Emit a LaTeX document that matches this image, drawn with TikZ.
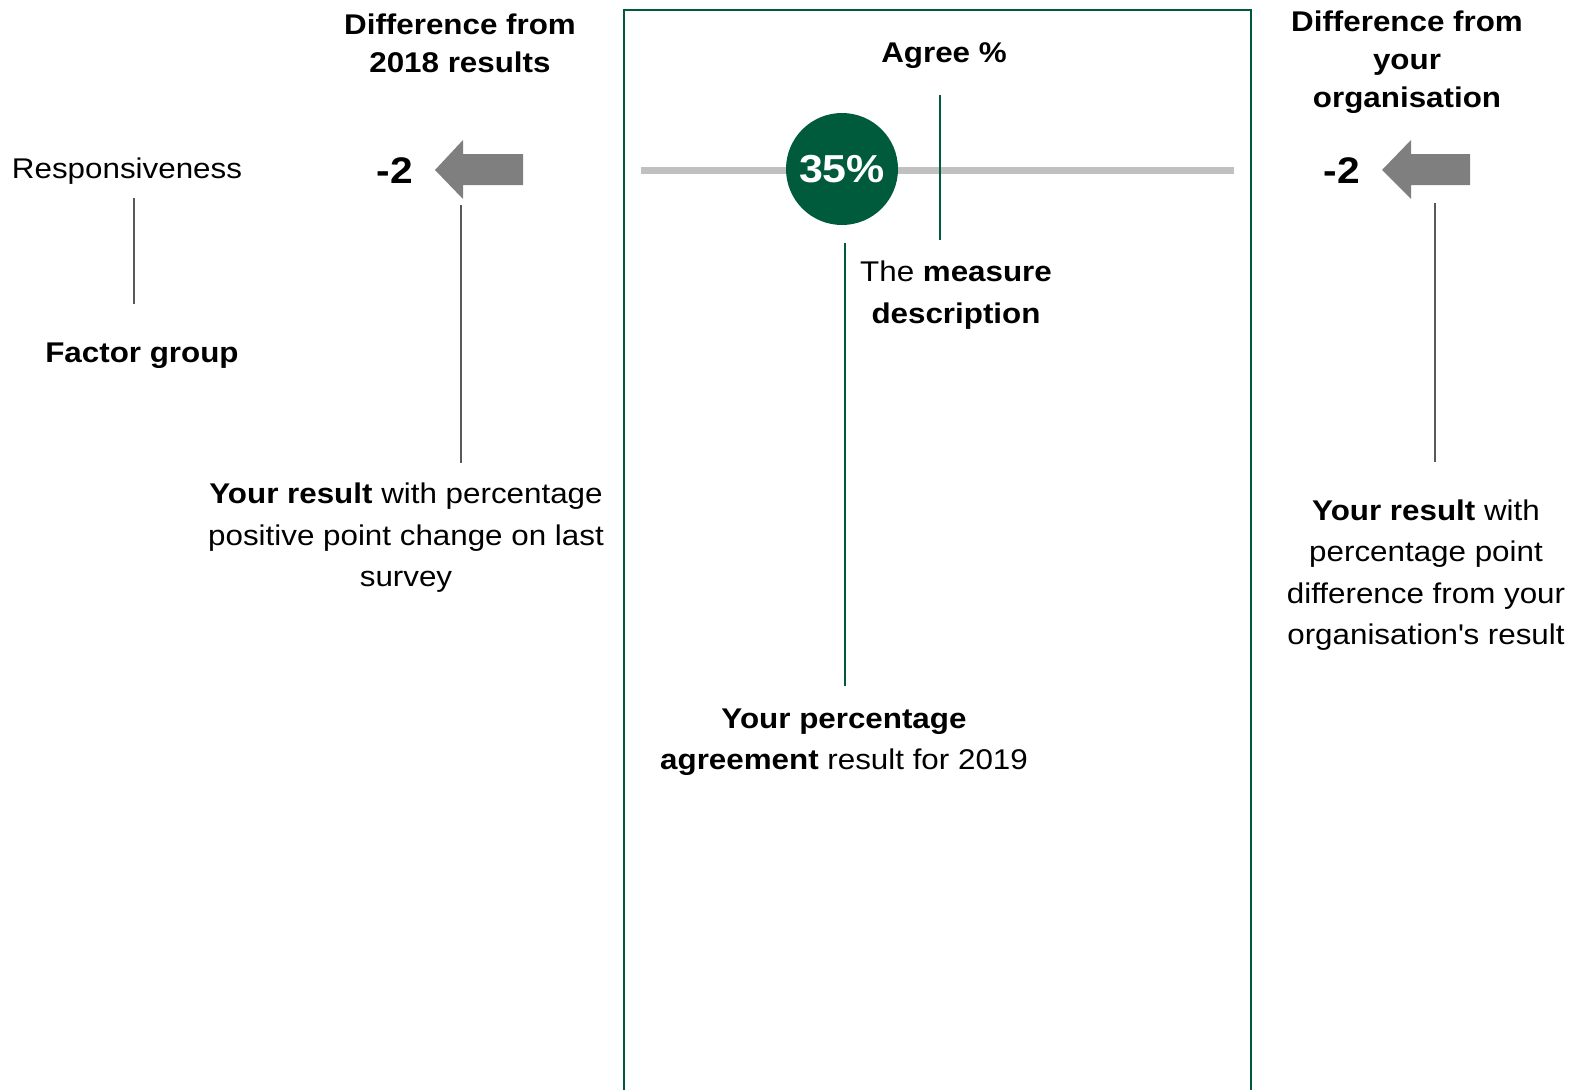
\documentclass[tikz,border=0pt]{standalone}
\usepackage{fontspec}
\setmainfont[FakeStretch=1.1]{Liberation Sans}
\definecolor{dkgreen}{HTML}{005A3C}
\definecolor{arrgray}{HTML}{7F7F7F}
\definecolor{linegray}{HTML}{595959}
\definecolor{bargray}{HTML}{C0C0C0}
\begin{document}
\begin{tikzpicture}[x=1pt,y=-1pt,
  txt/.style={align=center,inner sep=0pt,font=\fontsize{28.5}{41.5}\selectfont},
  hdr/.style={align=center,inner sep=0pt,font=\fontsize{28.5}{38}\selectfont\bfseries},
  num/.style={inner sep=0pt,font=\fontsize{37}{40}\selectfont\bfseries},
  glink/.style={draw=linegray,line width=2pt},
  grlink/.style={draw=dkgreen,line width=2.5pt},
  fatarrow/.style={fill=arrgray,draw=none}]
\useasboundingbox (0,0) rectangle (1573,1089);
% frame (open at bottom)
\draw[dkgreen,line width=2.8pt] (624,1095) -- (624,10) -- (1251,10) -- (1251,1095);
% bar
\draw[bargray,line width=7pt] (641,170) -- (1234,170);
% headers
\node[hdr] (h1) at (460,43) {Difference from\\2018 results};
\node[hdr] (h2) at (944,56) {Agree \%};
\node[hdr] (h3) at (1407,62) {Difference from\\your\\organisation};
% left side
\node[txt] (resp) at (127,171) {Responsiveness};
\node[txt,font=\fontsize{28.5}{41.5}\selectfont\bfseries] (fg) at (142,356) {Factor group};
\coordinate (r1) at (134,198);
\coordinate (r2) at (134,304);
\draw[glink] (r1) -- (r2);
\node[num] (n1) at (395,171) {-2};
\fill[fatarrow] (435,170) -- (463,140) -- (463,154) -- (523,154) -- (523,185) -- (463,185) -- (463,199) -- cycle;
\coordinate (a1) at (461,205);
\coordinate (a2) at (461,463);
\draw[glink] (a1) -- (a2);
\node[txt] (yr1) at (406,538) {\textbf{Your result} with percentage\\positive point change on last\\survey};
% middle
\node[circle,fill=dkgreen,minimum size=112pt,inner sep=0pt,text=white,font=\fontsize{39}{40}\selectfont\bfseries] (c) at (842,169) {35\%};
\coordinate (m1) at (940,95);
\coordinate (m2) at (940,240);
\draw[grlink] (m1) -- (m2);
\node[txt] (md) at (956,295) {The \textbf{measure}\\\textbf{description}};
\coordinate (p1) at (845,243);
\coordinate (p2) at (845,686);
\draw[grlink] (p1) -- (p2);
\node[txt] (pa) at (844,742) {\textbf{Your percentage}\\\textbf{agreement} result for 2019};
% right side
\node[num] (n2) at (1342,171) {-2};
\fill[fatarrow] (1382,170) -- (1411,140) -- (1411,154) -- (1470,154) -- (1470,185) -- (1411,185) -- (1411,199) -- cycle;
\coordinate (b1) at (1435,203);
\coordinate (b2) at (1435,462);
\draw[glink] (b1) -- (b2);
\node[txt] (yr2) at (1426,575) {\textbf{Your result} with\\percentage point\\difference from your\\organisation\textquotesingle s result};
\end{tikzpicture}
\end{document}
